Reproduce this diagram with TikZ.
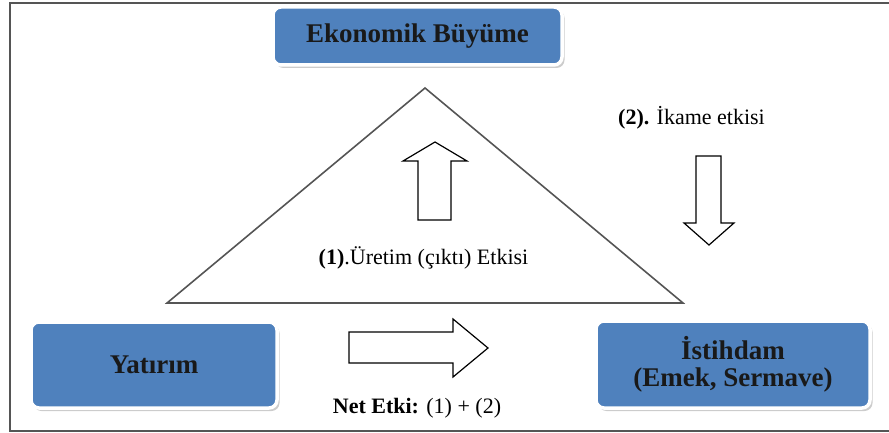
\documentclass[tikz,border=0pt]{standalone}
\usepackage{fontspec}
\setmainfont{Liberation Serif}
\usetikzlibrary{shadows}
\definecolor{boxblue}{HTML}{4F81BD}
\definecolor{framegray}{HTML}{555555}
\tikzset{effect box/.style={draw=white, line width=3.5pt, fill=boxblue, rounded corners=8pt,
  drop shadow={shadow xshift=2.5pt, shadow yshift=-3pt, fill=black!40},
  font=\fontsize{27}{27}\selectfont\bfseries, text=black!90, align=center, inner sep=0pt}}
\tikzset{block arrow/.style={draw=black, line width=1.2pt, fill=white, line join=miter}}
\tikzset{effect label/.style={font=\fontsize{22}{24}\selectfont, inner sep=0pt}}

\begin{document}
\begin{tikzpicture}[x=1pt, y=-1pt]
\useasboundingbox (0,0) rectangle (889,433);
\draw[framegray, line width=1.5pt] (889,3) -- (10,3) -- (10,431) -- (889,431);
\node[effect box, minimum width=289pt, minimum height=58pt] (growth) at (417.5,36) {Ekonomik Büyüme};
\node[effect box, minimum width=246pt, minimum height=86pt] (invest) at (154,365) {Yatırım};
\node[effect box, minimum width=274pt, minimum height=87pt] (employ) at (733,364.5) {İstihdam\\(Emek, Sermave)};
% triangle
\coordinate (apex) at (425,88);
\coordinate (baseL) at (167,303);
\coordinate (baseR) at (683,303);
\draw[framegray, line width=1.6pt, line join=miter] (apex) -- (baseR) -- (baseL) -- cycle;
% up arrow
\draw[block arrow] (418,220) -- (418,161) -- (403,161) -- (435,142) -- (467,161) -- (451,161) -- (451,220) -- cycle;
% down arrow
\draw[block arrow] (696,156) -- (696,223) -- (684,223) -- (709,245) -- (734,223) -- (721,223) -- (721,156) -- cycle;
% right arrow
\draw[block arrow] (349,332) -- (453,332) -- (453,319) -- (488,348) -- (453,377) -- (453,363) -- (349,363) -- cycle;
\node[effect label] (prod) at (423.5,258) {\textbf{(1)}.Üretim (çıktı) Etkisi};
\node[effect label] (subst) at (691.5,118) {\textbf{(2).} İkame etkisi};
\node[effect label] (net) at (417,408) {\textbf{Net Etki:} (1) + (2)};
\end{tikzpicture}
\end{document}
